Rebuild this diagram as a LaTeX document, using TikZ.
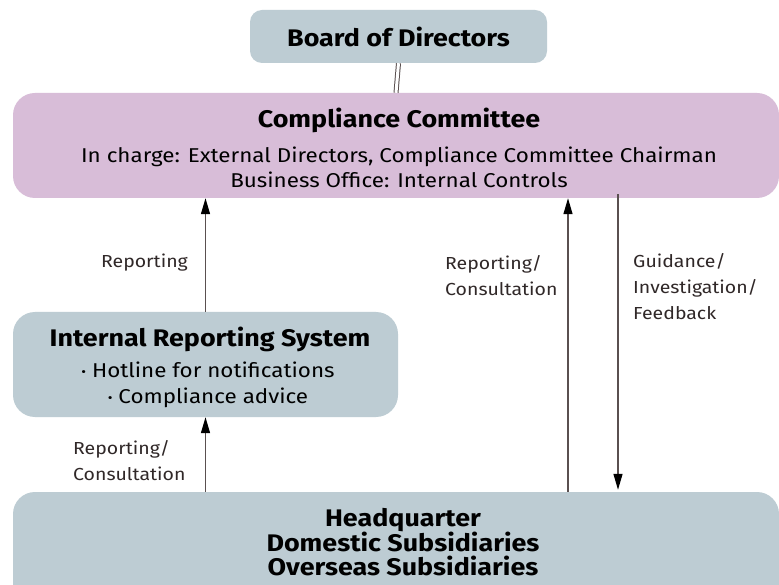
\documentclass[tikz,border=0pt]{standalone}
\usepackage{fontspec}
\setmainfont{Fira Sans}[FakeStretch=1.12]
\usetikzlibrary{positioning,arrows.meta}
\definecolor{boxblue}{HTML}{BDCCD3}
\definecolor{boxpink}{HTML}{D8BDD8}
\definecolor{linegray}{HTML}{5A5050}
\definecolor{labelgray}{HTML}{302828}
\newcommand{\dotmark}{\raisebox{1.5pt}{\fontsize{13}{13}\selectfont•}}
\tikzset{
  every box/.style={rounded corners=22pt, inner sep=0pt, align=center},
  flow/.style={draw=linegray, line width=1.3pt, -{Triangle[black, length=16pt, width=9pt]}},
  lbl/.style={text=labelgray, align=left, inner sep=0pt, font=\fontsize{17.4}{26}\selectfont},
  title/.style={font=\bfseries\fontsize{24}{24}\selectfont}
}
\begin{document}
\begin{tikzpicture}[x=1pt, y=-1pt]
  \clip (0,0) rectangle (779,585);
  \fill[white] (0,0) rectangle (779,585);
  % boxes
  \node [every box, fill=boxblue, rounded corners=12pt, minimum width=297pt, minimum height=53pt,
    title] (board) at (398.5,36.5) {Board of Directors};
  \node [every box, fill=boxpink, minimum width=766pt, minimum height=105pt] (cc) at (396,145.5) {};
  \node [every box, fill=boxblue, minimum width=385pt, minimum height=105pt] (irs) at (205.5,364.5) {};
  \node [every box, fill=boxblue, minimum width=766pt, minimum height=120pt] (hq) at (396,552) {};
  % box texts
  \node [title, inner sep=0pt] (cc-title) at (399,120) {Compliance Committee};
  \node [align=center, inner sep=0pt, font=\fontsize{20}{25}\selectfont] (cc-text) at (399,167)
    {In charge: External Directors, Compliance Committee Chairman\\Business Office: Internal Controls};
  \node [title, inner sep=0pt] (irs-title) at (210,339) {Internal Reporting System};
  \node [align=center, inner sep=0pt, font=\fontsize{20}{26}\selectfont] (irs-text) at (208,385)
    {\dotmark\ Hotline for notifications\\\dotmark\ Compliance advice};
  \node [title, align=center, inner sep=0pt] (hq-text) at (403,542)
    {Headquarter\\Domestic Subsidiaries\\Overseas Subsidiaries};
  % connectors
  \draw [linegray, line width=1pt, double=white, double distance=3pt] (board.south) -- (cc.north);
  \coordinate (up-x) at (568,0);
  \coordinate (down-x) at (618,0);
  \draw [flow] (irs.north) -- (irs.north |- cc.south);
  \draw [flow] (irs.south |- hq.north) -- (irs.south);
  \draw [flow] (hq.north -| up-x) -- (cc.south -| up-x);
  \draw [flow] ([yshift=4pt]cc.south -| down-x) -- ([yshift=2pt]hq.north -| down-x);
  % labels
  \node [lbl, anchor=east] (rep-a) at (188,263) {Reporting};
  \node [lbl, anchor=west] (rep-b) at (445,276) {Reporting/\\Consultation};
  \node [lbl, anchor=west] (guide) at (633,287) {Guidance/\\Investigation/\\Feedback};
  \node [lbl, anchor=west] (rep-c) at (73,461) {Reporting/\\Consultation};
\end{tikzpicture}
\end{document}
